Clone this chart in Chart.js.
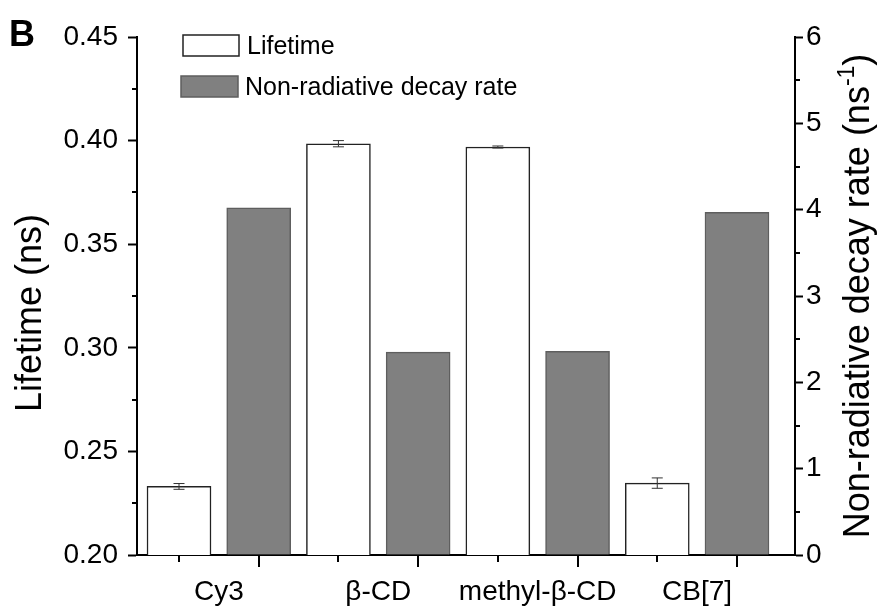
<!DOCTYPE html>
<html>
<head>
<meta charset="utf-8">
<script src="https://cdn.jsdelivr.net/npm/chart.js@4.4.0/dist/chart.umd.min.js"></script>
<style>
    html, body { margin: 0; padding: 0; background: #fff; }
</style>
</head>
<body>
<canvas id="lifetimeChart" width="881" height="609"></canvas>
<script>
const categories = ['Cy3', 'β-CD', 'methyl-β-CD', 'CB[7]'];
const lifetime = [0.2331, 0.3985, 0.3969, 0.2347];
const lifetimeErr = [0.0014, 0.0015, 0.0005, 0.0025];
const decayRate = [4.02, 2.35, 2.36, 3.97];
const lifetimeTicks = [0.20, 0.25, 0.30, 0.35, 0.40, 0.45];
const decayTicks = [0, 1, 2, 3, 4, 5, 6];

const FONT = "'Liberation Sans', Arial, sans-serif";
Chart.defaults.font.family = FONT;
Chart.defaults.color = '#000';

// each category takes two slots: lifetime bar then decay bar
const lifetimePos = i => 2 * i + 1;
const decayPos = i => 2 * i + 2;

const extrasPlugin = {
    id: 'extras',
    afterDatasetsDraw(chart) {
        const ctx = chart.ctx;
        const x = chart.scales.x;
        const y = chart.scales.y;
        ctx.save();
        ctx.strokeStyle = '#333';
        ctx.lineWidth = 1;
        lifetime.forEach((v, i) => {
            const px = x.getPixelForValue(lifetimePos(i));
            const top = y.getPixelForValue(v + lifetimeErr[i]);
            const bot = y.getPixelForValue(v - lifetimeErr[i]);
            ctx.beginPath();
            ctx.moveTo(px, top); ctx.lineTo(px, bot);
            ctx.moveTo(px - 5.5, top); ctx.lineTo(px + 5.5, top);
            ctx.moveTo(px - 5.5, bot); ctx.lineTo(px + 5.5, bot);
            ctx.stroke();
        });
        ctx.restore();
    },
    afterDraw(chart) {
        const ctx = chart.ctx;
        const area = chart.chartArea;
        const x = chart.scales.x;
        const y = chart.scales.y;
        const y2 = chart.scales.y2;
        ctx.save();
        ctx.strokeStyle = '#000';
        ctx.lineWidth = 2;

        // minor ticks on both value axes
        ctx.beginPath();
        for (let i = 0; i < lifetimeTicks.length - 1; i++) {
            const py = Math.round(y.getPixelForValue((lifetimeTicks[i] + lifetimeTicks[i + 1]) / 2));
            ctx.moveTo(area.left - 5, py); ctx.lineTo(area.left, py);
        }
        for (let i = 0; i < decayTicks.length - 1; i++) {
            const py = Math.round(y2.getPixelForValue((decayTicks[i] + decayTicks[i + 1]) / 2));
            ctx.moveTo(area.right, py); ctx.lineTo(area.right + 5, py);
        }
        // x ticks under every bar, longer under the decay bars
        categories.forEach((c, i) => {
            const p1 = Math.round(x.getPixelForValue(lifetimePos(i)));
            const p2 = Math.round(x.getPixelForValue(decayPos(i)));
            ctx.moveTo(p1, area.bottom); ctx.lineTo(p1, area.bottom + 7);
            ctx.moveTo(p2, area.bottom); ctx.lineTo(p2, area.bottom + 12);
        });
        ctx.stroke();

        // axis titles
        ctx.fillStyle = '#000';
        ctx.textAlign = 'center';
        ctx.textBaseline = 'alphabetic';
        ctx.font = '36px ' + FONT;
        ctx.save();
        ctx.translate(41, 313);
        ctx.rotate(-Math.PI / 2);
        ctx.fillText('Lifetime (ns)', 0, 0);
        ctx.restore();

        ctx.save();
        ctx.translate(869, 296);
        ctx.rotate(-Math.PI / 2);
        const main = 'Non-radiative decay rate (ns';
        const sup = '-1';
        const close = ')';
        ctx.font = '36px ' + FONT;
        const wMain = ctx.measureText(main).width;
        const wClose = ctx.measureText(close).width;
        ctx.font = '23px ' + FONT;
        const wSup = ctx.measureText(sup).width;
        let cx = -(wMain + wSup + wClose) / 2;
        ctx.textAlign = 'left';
        ctx.font = '36px ' + FONT;
        ctx.fillText(main, cx, 0);
        cx += wMain;
        ctx.font = '23px ' + FONT;
        ctx.fillText(sup, cx, -15);
        cx += wSup;
        ctx.font = '36px ' + FONT;
        ctx.fillText(close, cx, 0);
        ctx.restore();

        // legend
        ctx.lineWidth = 1.5;
        ctx.fillStyle = '#fff';
        ctx.strokeStyle = '#222';
        ctx.fillRect(183, 35, 56, 21);
        ctx.strokeRect(183, 35, 56, 21);
        ctx.fillStyle = '#808080';
        ctx.strokeStyle = '#5e5e5e';
        ctx.fillRect(181, 76, 57, 21);
        ctx.strokeRect(181, 76, 57, 21);
        ctx.fillStyle = '#000';
        ctx.textAlign = 'left';
        ctx.font = '25px ' + FONT;
        ctx.fillText(chart.data.datasets[0].label, 247, 54);
        ctx.fillText(chart.data.datasets[1].label, 245, 95);

        // panel letter
        ctx.font = 'bold 36px ' + FONT;
        ctx.fillText('B', 9, 46);
        ctx.restore();
    }
};

const ctx = document.getElementById('lifetimeChart').getContext('2d');
new Chart(ctx, {
    type: 'bar',
    data: {
        datasets: [
            {
                label: 'Lifetime',
                data: lifetime.map((v, i) => ({ x: lifetimePos(i), y: v })),
                yAxisID: 'y',
                backgroundColor: '#fff',
                borderColor: '#222',
                borderWidth: 1.5,
                barThickness: 64,
                grouped: false
            },
            {
                label: 'Non-radiative decay rate',
                data: decayRate.map((v, i) => ({ x: decayPos(i), y: v })),
                yAxisID: 'y2',
                backgroundColor: '#808080',
                borderColor: '#5e5e5e',
                borderWidth: 1.5,
                barThickness: 64,
                grouped: false
            }
        ]
    },
    options: {
        responsive: false,
        animation: false,
        layout: { padding: { top: 37, left: 0, right: 0, bottom: 0 } },
        plugins: {
            legend: { display: false },
            tooltip: { enabled: false }
        },
        scales: {
            x: {
                type: 'linear',
                min: 0.473,
                max: 8.728,
                offset: false,
                grid: { display: false, drawTicks: true, tickLength: 12, offset: false },
                border: { display: true, color: '#000', width: 2 },
                ticks: {
                    font: { size: 28 },
                    padding: 8,
                    maxRotation: 0,
                    autoSkip: false,
                    callback: v => categories[Math.round((v - 1.5) / 2)]
                },
                afterBuildTicks: s => { s.ticks = categories.map((c, i) => ({ value: 2 * i + 1.5 })); },
                afterFit: s => { s.height = 54; }
            },
            y: {
                position: 'left',
                min: 0.2,
                max: 0.45,
                afterBuildTicks: s => { s.ticks = lifetimeTicks.map(v => ({ value: v })); },
                ticks: { font: { size: 28 }, padding: 10, callback: v => v.toFixed(2) },
                grid: { drawOnChartArea: false, drawTicks: true, tickLength: 9, tickColor: '#000', tickWidth: 2 },
                border: { display: true, color: '#000', width: 2 },
                afterFit: s => { s.width = 137; }
            },
            y2: {
                position: 'right',
                min: 0,
                max: 6,
                afterBuildTicks: s => { s.ticks = decayTicks.map(v => ({ value: v })); },
                ticks: { font: { size: 28 }, padding: 3, callback: v => String(v) },
                grid: { drawOnChartArea: false, drawTicks: true, tickLength: 8, tickColor: '#000', tickWidth: 2 },
                border: { display: true, color: '#000', width: 2 },
                afterFit: s => { s.width = 86; }
            }
        }
    },
    plugins: [extrasPlugin]
});
</script>
</body>
</html>
